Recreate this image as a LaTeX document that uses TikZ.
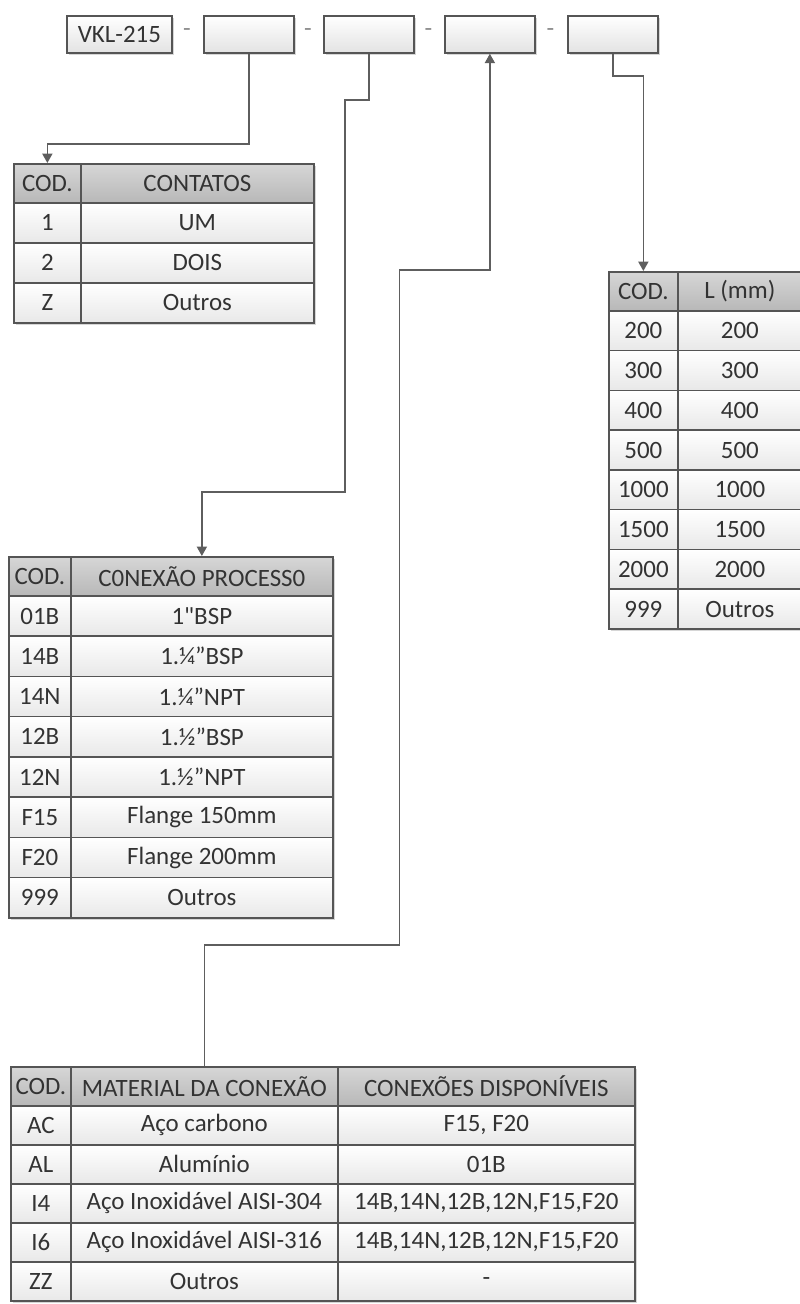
\documentclass[tikz,border=0pt]{standalone}
\usepackage{fontspec}
\setmainfont{Carlito}
\newfontfamily\rawq{Carlito}[Ligatures=TeXOff]
\usetikzlibrary{arrows.meta}
\definecolor{bordc}{HTML}{555555}
\definecolor{txtc}{HTML}{333333}
\definecolor{connc}{HTML}{5E5E5E}
\tikzset{
  x=0.75pt, y=-0.75pt,
  base/.style={draw=bordc, line width=1.3pt, text=txtc, inner sep=0pt,
    font=\fontsize{18.7}{22}\selectfont},
  hdr/.style={base, top color=black!16, bottom color=black!28},
  dat/.style={base, top color=white, bottom color=black!9},
  topbox/.style={base, top color=white, bottom color=black!11},
  dashmark/.style={text=black!45, inner sep=0pt, font=\fontsize{18.7}{22}\selectfont},
  conn/.style={draw=connc, line width=1.2pt},
  arr/.style={conn, -{Triangle[width=7.5pt,length=7pt]}},
  shadowc/.style={fill=black!16}
}
\newcommand\tcell[7]{%
  \node[#6, anchor=north west, minimum width={((#4)-(#2))*0.75pt},
        minimum height={((#5)-(#3))*0.75pt}] (#1) at (#2,#3) {#7};}
\newcommand\tshadow[4]{\fill[shadowc] (#1+3,#2+3) rectangle (#3+3,#4+3);}
\begin{document}
\begin{tikzpicture}
\useasboundingbox (0,0) rectangle (800,1304);
\clip (0,0) rectangle (800,1304);

% ---------- top code boxes ----------
\tshadow{66}{15}{171}{52}
\tshadow{203}{15}{293}{52}
\tshadow{323}{15}{413}{52}
\tshadow{444}{15}{534}{52}
\tshadow{567}{15}{657}{52}
\tcell{vkl}{66}{15}{171}{52}{topbox}{VKL-215}
\tcell{b1}{203}{15}{293}{52}{topbox}{}
\tcell{b2}{323}{15}{413}{52}{topbox}{}
\tcell{b3}{444}{15}{534}{52}{topbox}{}
\tcell{b4}{567}{15}{657}{52}{topbox}{}
\node[dashmark] (d1) at (187,33) {-};
\node[dashmark] (d2) at (308,33) {-};
\node[dashmark] (d3) at (428.5,33) {-};
\node[dashmark] (d4) at (550.5,33) {-};

% ---------- table 1: CONTATOS ----------
\tshadow{13}{163}{313}{322}
\tcell{t1h1}{13}{163}{80}{202}{hdr}{COD.}
\tcell{t1h2}{80}{163}{313}{202}{hdr}{CONTATOS}
\foreach \c/\v [count=\i] in {1/UM,2/DOIS,Z/Outros}{
  \pgfmathsetmacro\ya{202+(\i-1)*40}
  \pgfmathsetmacro\yb{\ya+40}
  \tcell{t1a\i}{13}{\ya}{80}{\yb}{dat}{\c}
  \tcell{t1b\i}{80}{\ya}{313}{\yb}{dat}{\v}
}

% ---------- table 4: L (mm) ----------
\tshadow{608}{271}{801}{628}
\tcell{t4h1}{608}{271}{677}{310}{hdr}{COD.}
\tcell{t4h2}{677}{271}{801}{310}{hdr}{L (mm)}
\foreach \c/\v [count=\i] in {200/200,300/300,400/400,500/500,1000/1000,1500/1500,2000/2000,999/Outros}{
  \pgfmathsetmacro\ya{310+(\i-1)*39.75}
  \pgfmathsetmacro\yb{\ya+39.75}
  \tcell{t4a\i}{608}{\ya}{677}{\yb}{dat}{\c}
  \tcell{t4b\i}{677}{\ya}{801}{\yb}{dat}{\v}
}

% ---------- table 2: CONEXAO PROCESSO ----------
\tshadow{8}{556}{332}{917}
\tcell{t2h1}{8}{556}{70}{595}{hdr}{COD.}
\tcell{t2h2}{70}{556}{332}{595}{hdr}{C0NEXÃO PROCESS0}
\foreach \c/\v [count=\i] in {01B/{\rawq 1"BSP},14B/1.¼”BSP,14N/1.¼”NPT,12B/1.½”BSP,12N/1.½”NPT,F15/Flange 150mm,F20/Flange 200mm,999/Outros}{
  \pgfmathsetmacro\ya{595+(\i-1)*40.25}
  \pgfmathsetmacro\yb{\ya+40.25}
  \tcell{t2a\i}{8}{\ya}{70}{\yb}{dat}{\c}
  \tcell{t2b\i}{70}{\ya}{332}{\yb}{dat}{\v}
}

% ---------- table 3: MATERIAL ----------
\tshadow{10}{1066}{634}{1300}
\tcell{t3h1}{10}{1066}{70}{1105}{hdr}{COD.}
\tcell{t3h2}{70}{1066}{337}{1105}{hdr}{MATERIAL DA CONEXÃO}
\tcell{t3h3}{337}{1066}{634}{1105}{hdr}{CONEXÕES DISPONÍVEIS}
\foreach \c/\v/\w [count=\i] in {AC/Aço carbono/{F15, F20},AL/Alumínio/01B,I4/Aço Inoxidável AISI-304/{14B,14N,12B,12N,F15,F20},I6/Aço Inoxidável AISI-316/{14B,14N,12B,12N,F15,F20},ZZ/Outros/-}{
  \pgfmathsetmacro\ya{1105+(\i-1)*39}
  \pgfmathsetmacro\yb{\ya+39}
  \tcell{t3a\i}{10}{\ya}{70}{\yb}{dat}{\c}
  \tcell{t3b\i}{70}{\ya}{337}{\yb}{dat}{\v}
  \tcell{t3c\i}{337}{\ya}{634}{\yb}{dat}{\w}
}

% ---------- connectors ----------
\draw[arr] (b1.south) -- ++(0,90) -| (t1h1.north);
\draw[arr] (b2.south) -- ++(0,46) -- ++(-24,0) -- ++(0,392) -| (t2h2.north);
\draw[arr] (t3h2.north) -- ++(0,-121) -- ++(195,0) -- ++(0,-675) -| (b3.south);
\draw[arr] (b4.south) -- ++(0,22) -| (t4h1.north);
\end{tikzpicture}
\end{document}
